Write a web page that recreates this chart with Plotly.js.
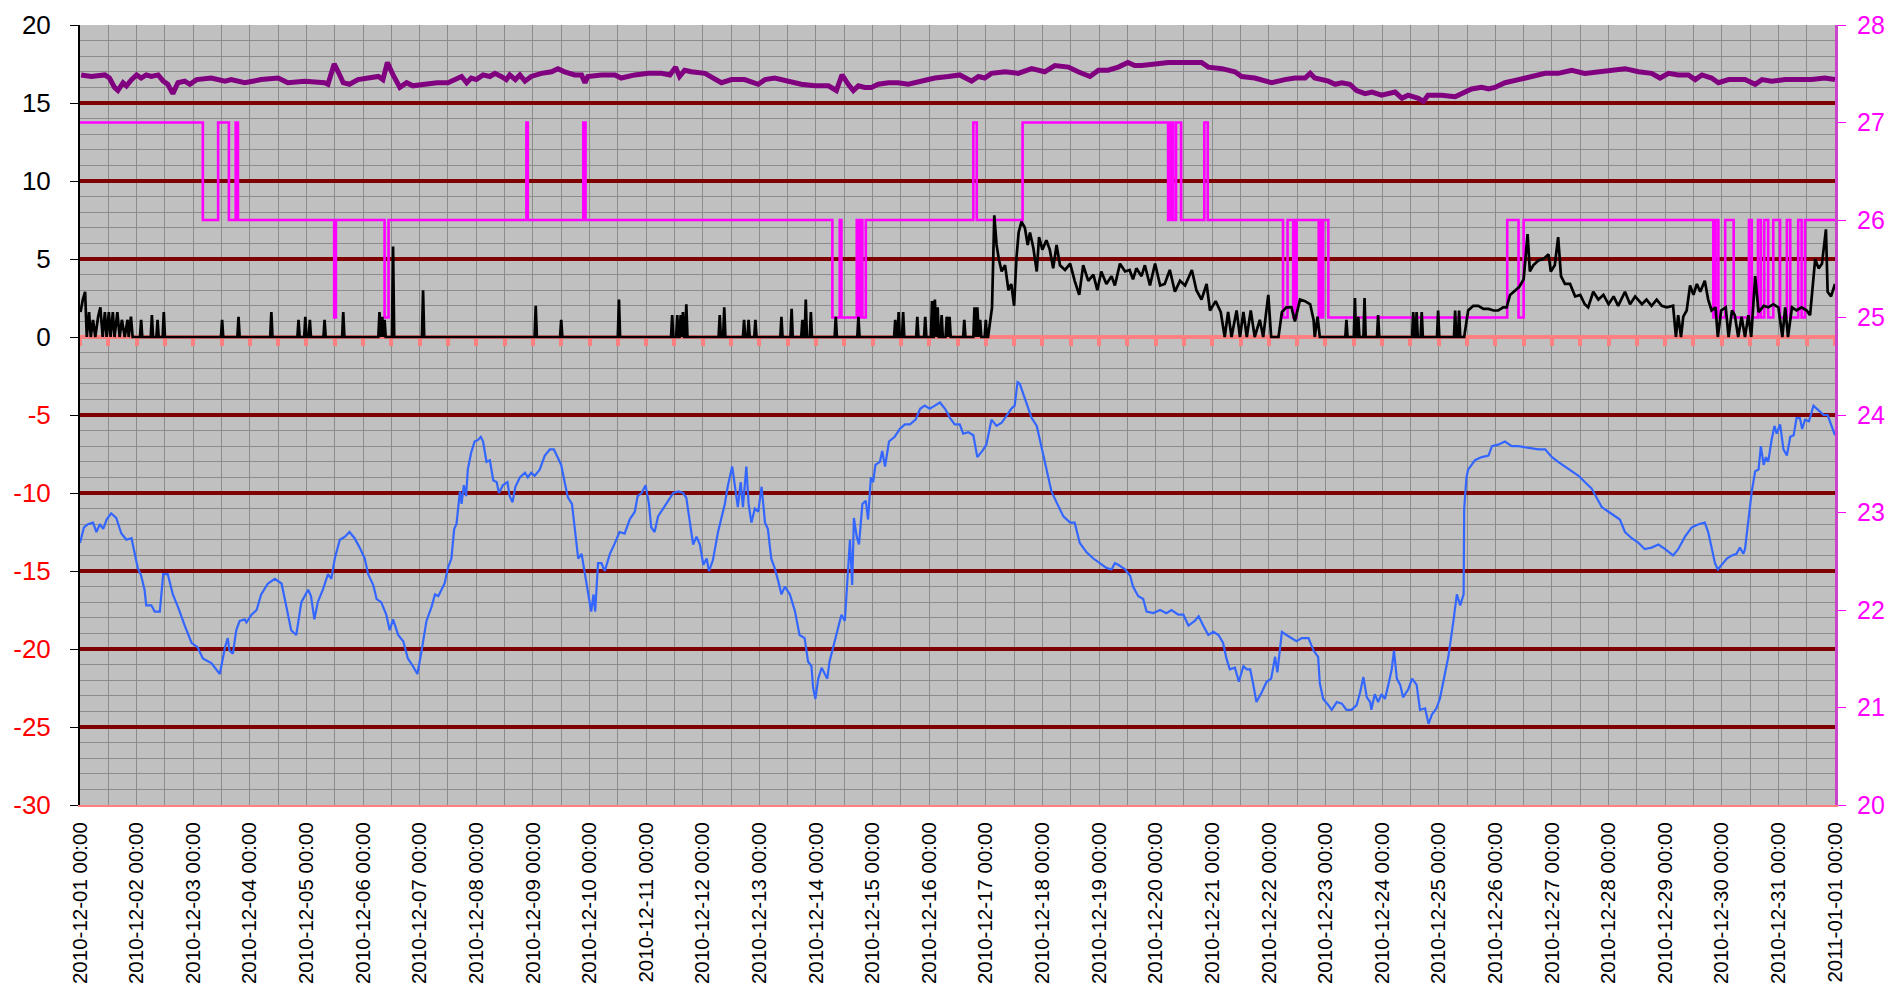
<!DOCTYPE html>
<html>
<head>
<meta charset="utf-8">
<script src="https://cdn.plot.ly/plotly-3.0.1.min.js"></script>
<style>html,body{margin:0;padding:0;background:#fff;}#chart{width:1890px;height:989px;}</style>
</head>
<body>
<div id="chart"></div>
<script>
// Time in days since 2010-12-01 00:00
const startDate = '2010-12-01 00:00';
const endDate = '2011-01-01 00:00';

// Left axis tick values / labels
const leftTickVals = [20, 15, 10, 5, 0, -5, -10, -15, -20, -25, -30];
const rightTickVals = [20, 21, 22, 23, 24, 25, 26, 27, 28];

// Blue series (left axis)
const blueT = [0,0.07,0.14,0.23,0.29,0.35,0.41,0.47,0.55,0.64,0.73,0.82,0.91,0.97,1.02,1.08,1.14,1.17,1.26,1.32,1.41,1.47,1.55,1.64,1.73,1.85,1.97,2.08,2.17,2.32,2.41,2.47,2.56,2.61,2.64,2.70,2.76,2.82,2.91,2.94,3.03,3.12,3.20,3.32,3.44,3.56,3.64,3.73,3.82,3.91,4.03,4.08,4.14,4.20,4.29,4.38,4.44,4.50,4.59,4.68,4.76,4.85,4.94,5.03,5.09,5.18,5.24,5.32,5.41,5.47,5.53,5.62,5.71,5.79,5.88,5.96,6.03,6.12,
6.21,6.27,6.33,6.38,6.44,6.50,6.56,6.61,6.65,6.71,6.74,6.78,6.82,6.85,6.91,6.97,7.03,7.08,7.12,7.18,7.24,7.30,7.36,7.40,7.47,7.55,7.59,7.64,7.69,7.77,7.86,7.91,7.97,8.03,8.12,8.21,8.30,8.37,8.44,8.50,8.56,8.62,8.69,8.74,8.80,8.86,8.92,8.97,9.03,9.07,9.10,9.15,9.21,9.27,9.36,9.45,9.53,9.62,9.71,9.80,9.85,9.92,9.99,10.05,10.09,10.15,10.21,10.30,10.39,10.48,10.57,10.65,10.71,10.77,10.83,10.89,10.95,11.01,11.07,11.11,11.18,11.27,11.33,11.39,11.44,11.52,11.57,11.62,11.67,11.71,11.77,11.81,11.86,11.92,11.98,12.04,12.10,12.15,12.21,12.27,
12.33,12.39,12.45,12.54,12.63,12.71,12.80,12.86,12.92,12.95,12.99,13.04,13.10,13.16,13.20,13.24,13.30,13.36,13.45,13.51,13.55,13.60,13.64,13.67,13.72,13.76,13.82,13.88,13.92,13.97,14.01,14.05,14.13,14.17,14.22,14.29,14.39,14.48,14.57,14.66,14.76,14.84,14.92,15.01,15.10,15.19,15.28,15.37,15.45,15.54,15.60,15.69,15.78,15.85,15.94,16.01,16.10,16.19,16.28,16.37,16.45,16.51,16.56,16.60,16.69,16.81,16.90,16.98,17.07,17.16,17.25,17.37,17.49,17.57,17.66,17.78,17.90,18.02,18.13,18.22,18.28,18.34,18.46,
18.55,18.60,18.69,18.78,18.84,18.96,19.08,19.19,19.28,19.40,19.49,19.58,19.69,19.76,19.84,19.93,20.02,20.11,20.19,20.25,20.31,20.40,20.47,20.55,20.61,20.67,20.72,20.78,20.87,20.96,21.04,21.11,21.15,21.23,21.31,21.40,21.49,21.58,21.70,21.79,21.87,21.90,21.96,22.05,22.11,22.20,22.29,22.37,22.46,22.55,22.61,22.67,22.73,22.79,22.81,22.87,22.93,22.99,23.05,23.11,23.17,23.21,23.26,23.32,23.37,23.46,23.53,23.61,23.67,23.76,23.82,23.88,23.96,24.02,24.08,24.17,24.26,24.32,24.38,24.44,24.45,24.49,24.52,24.64,24.76,
24.88,24.94,25.05,25.17,25.29,25.41,25.58,25.76,25.88,26.00,26.11,26.23,26.35,26.47,26.58,26.70,26.79,26.88,27.00,27.11,27.20,27.29,27.41,27.53,27.64,27.76,27.88,28.00,28.14,28.23,28.35,28.47,28.59,28.70,28.76,28.82,28.88,28.93,29.00,29.09,29.18,29.26,29.32,29.38,29.41,29.47,29.53,29.59,29.65,29.69,29.74,29.78,29.82,29.88,29.93,29.97,30.03,30.09,30.15,30.21,30.27,30.32,30.38,30.42,30.47,30.54,30.62,30.71,30.80,30.87,30.94,31.00];
const blueV = [-13.2,-12.2,-12.0,-11.9,-12.5,-12.0,-12.3,-11.7,-11.3,-11.6,-12.6,-13.0,-12.9,-13.9,-14.8,-15.3,-16.2,-17.2,-17.2,-17.6,-17.6,-15.2,-15.2,-16.5,-17.3,-18.5,-19.6,-19.9,-20.6,-20.9,-21.3,-21.6,-19.9,-19.3,-20.1,-20.3,-18.8,-18.2,-18.1,-18.3,-17.8,-17.5,-16.5,-15.8,-15.5,-15.8,-17.2,-18.8,-19.1,-17.0,-16.2,-16.6,-18.1,-17.0,-16.2,-15.2,-15.5,-14.2,-13.0,-12.8,-12.5,-12.9,-13.5,-14.2,-15.2,-15.9,-16.8,-17.0,-17.8,-18.8,-18.1,-19.1,-19.5,-20.6,-21.1,-21.6,-20.2,-18.2,
-17.3,-16.5,-16.6,-16.2,-15.8,-14.8,-14.2,-12.3,-12.0,-9.9,-10.7,-9.5,-10.2,-8.5,-7.4,-6.7,-6.6,-6.4,-6.7,-8.0,-7.9,-9.2,-9.3,-10.0,-9.5,-9.3,-10.2,-10.6,-9.6,-9.0,-8.7,-9.0,-8.7,-8.9,-8.5,-7.6,-7.2,-7.2,-7.7,-8.2,-9.3,-10.3,-10.7,-12.5,-14.2,-13.9,-15.3,-16.5,-17.6,-16.5,-17.6,-14.5,-14.5,-15.0,-13.9,-13.2,-12.5,-12.6,-11.7,-11.2,-10.2,-10.0,-9.5,-10.7,-12.2,-12.5,-11.5,-11.0,-10.5,-10.0,-9.9,-10.0,-10.3,-11.9,-13.3,-12.8,-13.3,-14.6,-14.2,-15.0,-14.3,-12.5,-11.6,-10.7,-9.6,-8.3,-9.6,-10.9,-9.3,-10.9,-8.3,-10.7,-11.9,-11.0,-11.2,-9.6,-11.9,-12.3,-14.2,-14.8,
-15.6,-16.5,-16.0,-16.5,-17.6,-19.1,-19.3,-20.8,-21.1,-22.5,-23.2,-21.9,-21.2,-21.6,-21.9,-20.8,-19.9,-19.1,-17.8,-18.2,-15.6,-13.0,-15.9,-11.6,-12.8,-13.3,-10.7,-10.5,-11.7,-9.0,-9.3,-8.2,-8.0,-7.3,-8.3,-6.7,-6.4,-5.9,-5.6,-5.6,-5.3,-4.6,-4.4,-4.6,-4.4,-4.2,-4.6,-5.2,-5.6,-5.6,-6.2,-6.1,-6.3,-7.7,-7.3,-6.9,-5.3,-5.7,-5.5,-5.0,-4.6,-4.4,-2.9,-3.0,-4.0,-5.2,-5.7,-7.0,-8.3,-9.9,-10.6,-11.5,-11.9,-11.9,-13.2,-13.8,-14.2,-14.5,-14.8,-14.9,-14.5,-14.6,-14.9,
-15.3,-16.0,-16.6,-16.8,-17.6,-17.7,-17.5,-17.7,-17.5,-17.8,-17.8,-18.5,-18.2,-17.9,-18.5,-19.1,-18.9,-19.1,-19.6,-20.6,-21.3,-21.2,-22.1,-21.1,-21.3,-21.3,-22.2,-23.4,-22.8,-22.1,-21.9,-20.5,-21.5,-18.9,-19.1,-19.3,-19.5,-19.3,-19.3,-20.1,-20.5,-22.2,-23.2,-23.6,-23.9,-23.4,-23.5,-23.9,-23.9,-23.6,-22.8,-21.8,-23.1,-23.4,-23.9,-22.9,-23.4,-22.9,-23.2,-22.3,-21.3,-20.1,-21.9,-22.3,-23.1,-22.6,-21.9,-22.3,-23.9,-23.8,-24.8,-24.2,-23.8,-23.2,-22.2,-20.5,-18.2,-16.5,-17.2,-16.5,-11.0,-9.0,-8.5,-7.9,-7.7,
-7.6,-7.0,-6.9,-6.7,-7.0,-7.0,-7.1,-7.2,-7.2,-7.7,-8.0,-8.3,-8.6,-8.9,-9.3,-9.7,-10.3,-10.9,-11.2,-11.5,-11.7,-12.5,-12.9,-13.2,-13.6,-13.5,-13.3,-13.6,-14.0,-13.6,-12.8,-12.2,-12.0,-11.9,-12.5,-13.5,-14.5,-14.9,-14.6,-14.2,-14.0,-13.9,-13.5,-13.9,-13.6,-11.7,-9.9,-8.6,-8.5,-7.0,-8.2,-7.7,-8.0,-6.6,-5.7,-6.2,-5.6,-7.2,-7.6,-6.4,-6.3,-5.2,-5.2,-5.9,-5.3,-5.4,-4.4,-4.7,-5.0,-5.0,-5.7,-6.3];

// Purple series (left axis)
const purpleT = [0.02,0.2,0.44,0.52,0.61,0.67,0.76,0.82,0.91,1.0,1.08,1.17,1.26,1.38,1.47,1.55,1.64,1.73,1.85,1.94,2.06,2.32,2.56,2.67,2.91,3.2,3.5,3.67,3.97,4.32,4.38,4.49,4.56,4.65,4.76,4.91,5.09,5.27,5.35,5.43,5.53,5.65,5.77,5.88,6.09,6.31,6.5,6.62,6.74,6.83,6.91,7.0,7.12,7.24,7.33,7.44,7.53,7.59,7.69,7.77,7.86,7.97,8.15,8.33,8.44,8.56,8.74,8.86,8.92,8.97,9.21,9.45,9.56,9.8,10.04,10.27,10.42,10.52,10.59,10.68,10.8,11.04,11.21,11.33,11.51,11.74,11.98,12.1,12.27,12.5,12.74,12.98,13.22,13.36,13.46,13.57,13.66,13.75,13.86,13.98,14.1,14.28,14.45,14.63,14.75,14.92,15.1,15.34,15.54,15.75,15.87,15.98,16.1,16.34,16.57,16.81,17.04,17.22,17.46,17.63,17.84,17.99,18.16,18.34,18.51,18.63,18.75,18.99,19.22,19.46,19.69,19.81,19.93,20.17,20.4,20.52,20.75,21.05,21.28,21.46,21.64,21.73,21.81,22.05,22.17,22.29,22.43,22.55,22.7,22.82,22.99,23.23,23.35,23.46,23.64,23.73,23.81,24.05,24.29,24.41,24.58,24.76,24.88,24.99,25.17,25.41,25.64,25.88,26.11,26.35,26.58,26.82,27.06,27.29,27.53,27.76,27.91,28.06,28.23,28.41,28.53,28.65,28.82,28.94,29.12,29.41,29.59,29.71,29.88,30.12,30.35,30.59,30.82,31.0];
const purpleV = [16.8,16.7,16.8,16.6,16.0,15.8,16.3,16.1,16.5,16.8,16.6,16.8,16.7,16.8,16.4,16.2,15.6,16.3,16.4,16.2,16.5,16.6,16.4,16.5,16.3,16.5,16.6,16.3,16.4,16.3,16.2,17.5,17.0,16.3,16.2,16.5,16.6,16.7,16.5,17.6,16.8,16.0,16.3,16.1,16.2,16.3,16.3,16.5,16.7,16.3,16.6,16.5,16.8,16.7,16.9,16.7,16.5,16.8,16.5,16.8,16.4,16.7,16.9,17.0,17.2,17.0,16.8,16.8,16.3,16.7,16.8,16.8,16.6,16.8,16.9,16.9,16.8,17.3,16.7,17.1,17.0,16.9,16.5,16.3,16.5,16.5,16.2,16.5,16.6,16.4,16.2,16.1,16.1,15.8,16.8,16.2,15.8,16.1,16.0,16.0,16.2,16.3,16.3,16.2,16.3,16.4,16.6,16.7,16.8,16.4,16.7,16.6,16.9,17.0,16.9,17.2,17.0,17.4,17.3,17.0,16.7,17.1,17.1,17.3,17.6,17.4,17.4,17.5,17.6,17.6,17.6,17.6,17.3,17.2,17.0,16.7,16.6,16.3,16.5,16.6,16.6,16.9,16.6,16.4,16.2,16.3,16.2,15.8,15.6,15.7,15.5,15.7,15.3,15.5,15.3,15.1,15.5,15.5,15.4,15.6,15.9,16.0,15.9,16.0,16.3,16.5,16.7,16.9,16.9,17.1,16.9,17.0,17.1,17.2,17.0,16.9,16.6,16.9,16.8,16.8,16.5,16.8,16.6,16.3,16.5,16.5,16.2,16.5,16.4,16.5,16.5,16.5,16.6,16.5];

// Black series (left axis)
const blackT = [0.01,0.05,0.09,0.12,0.16,0.19,0.23,0.27,0.32,0.36,0.40,0.44,0.47,0.51,0.54,0.58,0.61,0.66,0.70,0.74,0.79,0.84,0.86,0.90,0.93,
1.06,1.08,1.10, 1.25,1.27,1.29, 1.35,1.37,1.39, 1.46,1.48,1.50, 2.49,2.51,2.53, 2.78,2.80,2.82, 3.36,3.38,3.40, 3.84,3.86,3.88, 3.96,3.98,4.00, 4.04,4.06,4.08, 4.30,4.32,4.34, 4.63,4.65,4.67,
5.27,5.29,5.31, 5.32,5.34,5.36, 5.36,5.38,5.40, 5.51,5.53,5.55, 6.04,6.06,6.08, 8.03,8.05,8.07, 8.48,8.50,8.52, 9.50,9.52,9.54,
10.44,10.46,10.48, 10.53,10.55,10.57, 10.59,10.61,10.63, 10.63,10.65,10.67, 10.69,10.71,10.73, 11.28,11.30,11.32, 11.36,11.38,11.40, 11.71,11.73,11.75, 11.79,11.81,11.83, 11.91,11.93,11.95,
12.37,12.39,12.41, 12.55,12.57,12.59, 12.74,12.76,12.78, 12.80,12.82,12.84, 12.89,12.91,12.93, 13.33,13.35,13.37, 13.73,13.75,13.77, 14.38,14.40,14.42, 14.44,14.46,14.48, 14.52,14.54,14.56, 14.77,14.79,14.81, 14.91,14.93,14.95,
15.03,15.05,15.07, 15.08,15.10,15.12, 15.13,15.15,15.17, 15.20,15.22,15.24, 15.29,15.31,15.33, 15.34,15.36,15.38, 15.60,15.62,15.64, 15.78,15.80,15.82, 15.83,15.85,15.87, 15.88,15.90,15.92, 15.98,16.00,16.02,
16.04,16.11,16.15,16.19,16.23,16.28,16.34,16.40,16.45,16.50,16.54,16.58,16.63,16.69,16.74,16.78,16.84,16.90,16.94,17.00,17.07,17.13,17.19,17.25,17.31,17.40,17.49,17.57,17.65,17.72,17.81,17.90,17.97,18.04,18.13,18.22,18.28,18.37,18.46,18.54,18.60,18.66,18.75,18.81,18.90,18.99,19.08,19.16,19.25,19.34,19.43,19.52,19.64,19.72,19.81,19.90,19.96,20.06,20.15,20.22,20.28,20.34,20.43,20.49,20.55,20.61,20.68,20.75,20.84,20.90,20.99,21.04,21.17,21.23,21.31,21.40,21.46,21.55,21.64,21.73,21.79,21.81,21.86,21.90,
22.35,22.37,22.39, 22.50,22.52,22.54, 22.56,22.58,22.60, 22.67,22.69,22.71, 22.91,22.93,22.95, 23.53,23.55,23.57, 23.59,23.61,23.63, 23.68,23.70,23.72, 23.97,23.99,24.01, 24.27,24.29,24.31, 24.34,24.36,24.38,
24.45,24.52,24.61,24.70,24.79,24.88,24.97,25.05,25.14,25.20,25.26,25.35,25.42,25.50,25.57,25.61,25.67,25.76,25.85,25.94,25.98,26.05,26.11,26.16,26.23,26.32,26.41,26.50,26.58,26.64,26.73,26.82,26.91,27.00,27.09,27.17,27.29,27.38,27.47,27.59,27.67,27.76,27.85,27.94,28.03,28.14,28.19,28.23,28.28,28.32,28.38,28.44,28.50,28.56,28.62,28.70,28.76,28.82,28.89,28.93,28.99,29.07,29.12,29.18,29.23,29.29,29.35,29.41,29.47,29.52,29.59,29.65,29.74,29.82,29.91,30.00,30.07,30.12,30.17,30.24,30.32,30.41,30.50,30.56,30.65,30.71,30.77,30.84,30.87,30.93,31.00];
const blackV = [1.6,2.4,2.9,0,1.6,0,1.1,0,1.3,1.9,0,1.6,0,1.6,0,1.6,0,1.6,0,1.1,0,1.1,0,1.3,0,
0,1.1,0, 0,1.4,0, 0,1.1,0, 0,1.6,0, 0,1.1,0, 0,1.3,0, 0,1.6,0, 0,1.1,0, 0,1.3,0, 0,1.1,0, 0,1.1,0, 0,1.6,0,
0,1.6,0, 0,1.3,0, 0,1.1,0, 0,5.8,0, 0,3.0,0, 0,2.0,0, 0,1.1,0, 0,2.4,0,
0,1.4,0, 0,1.4,0, 0,1.4,0, 0,1.6,0, 0,2.1,0, 0,1.4,0, 0,1.9,0, 0,1.1,0, 0,1.1,0, 0,1.1,0,
0,1.3,0, 0,1.8,0, 0,1.1,0, 0,2.4,0, 0,1.6,0, 0,1.3,0, 0,1.3,0, 0,1.1,0, 0,1.6,0, 0,1.6,0, 0,1.3,0, 0,1.3,0,
0,2.3,0, 0,2.4,0, 0,1.9,0, 0,1.4,0, 0,1.3,0, 0,1.3,0, 0,1.1,0, 0,1.9,0, 0,1.9,0, 0,1.1,0, 0,1.1,0,
0,1.9,7.8,5.9,5.0,4.2,4.6,3.0,3.4,2.0,5.0,6.7,7.4,7.0,5.9,6.7,5.7,4.2,6.4,5.6,6.2,5.6,4.4,5.9,4.6,4.3,4.7,3.6,2.7,4.6,3.6,4.0,3.0,4.2,3.4,3.9,3.3,4.7,4.2,4.3,3.7,4.4,3.9,4.6,3.3,4.7,3.3,3.4,4.3,2.9,3.6,3.3,4.3,3.0,2.4,3.4,1.7,2.3,1.6,0,1.6,0,1.7,0,1.6,0,1.7,0,1.1,0,2.7,0,0,1.6,1.9,1.9,1.0,2.4,2.3,2.1,1.1,0,1.3,0,
0,1.1,0, 0,2.5,0, 0,1.3,0, 0,2.5,0, 0,1.4,0, 0,1.6,0, 0,1.6,0, 0,1.6,0, 0,1.7,0, 0,1.7,0, 0,1.7,0,
0,1.7,2.0,2.0,1.8,1.8,1.7,1.7,1.9,1.9,2.7,3.0,3.2,3.7,6.6,4.2,4.6,4.9,5.0,5.3,4.2,4.6,6.4,3.9,3.4,3.4,2.6,2.7,2.1,1.9,2.9,2.4,2.7,2.1,2.6,2.0,2.9,2.1,2.6,2.1,2.4,2.0,2.4,2.0,1.9,2.0,0,1.4,0,1.3,1.7,3.3,2.7,3.4,2.9,3.6,2.4,1.7,1.9,0,1.7,1.9,0,1.7,1.4,0,1.3,0,1.4,0,3.9,1.6,2.0,1.9,2.1,1.9,0,1.9,0,1.9,1.7,1.9,1.7,1.4,5.0,4.4,4.7,6.9,2.9,2.6,3.4];

// Magenta step series (right axis)
const magT = [0,2.17,2.44,2.63,2.75,2.79,4.49,4.52,5.38,5.45,7.885,7.91,8.89,8.93,13.29,13.42,13.45,13.72,13.76,13.80,13.82,13.88,15.78,15.84,16.65,19.22,19.25,19.27,19.30,19.31,19.36,19.45,19.86,19.92,21.25,21.33,21.43,21.45,21.47,21.49,21.88,21.91,21.93,21.96,22.05,25.21,25.41,25.50,28.85,28.89,28.94,29.06,29.21,29.48,29.53,29.64,29.69,29.75,29.82,29.91,30.03,30.15,30.21,30.35,30.41,30.47,31.0];
const magV = [27,26,27,26,27,26,25,26,25,26,27,26,27,26,25,26,25,26,25,26,25,26,27,26,27,26,27,26,27,26,27,26,27,26,25,26,25,26,25,26,25,26,25,26,25,26,25,26,25,26,25,26,25,26,25,26,25,26,25,26,25,26,25,26,25,26,26];

function toDate(d) {
  const ms = Date.UTC(2010, 11, 1) + Math.round(d * 86400000);
  return new Date(ms).toISOString().replace('T', ' ').slice(0, 19);
}

const leftTickText = leftTickVals.map(v => v < 0 ? '<span style="color:#ff0000">' + v + '</span>' : String(v));

const traces = [
  {x: blueT.map(toDate), y: blueV, type: 'scatter', mode: 'lines', line: {color: '#3366ff', width: 2.2}, xaxis: 'x', yaxis: 'y', hoverinfo: 'skip'},
  {x: purpleT.map(toDate), y: purpleV, type: 'scatter', mode: 'lines', line: {color: '#800080', width: 5}, xaxis: 'x', yaxis: 'y', hoverinfo: 'skip'},
  {x: blackT.map(toDate), y: blackV, type: 'scatter', mode: 'lines', line: {color: '#000000', width: 2.7}, xaxis: 'x2', yaxis: 'y', hoverinfo: 'skip'},
  {x: magT.map(toDate), y: magV, type: 'scatter', mode: 'lines', line: {color: '#ff00ff', width: 2.6, shape: 'hv'}, xaxis: 'x', yaxis: 'y2', hoverinfo: 'skip'}
];

const fontFam = 'Liberation Sans, Arial, sans-serif';

const layout = {
  width: 1890, height: 989,
  margin: {l: 80, r: 55, t: 25, b: 184, pad: 0},
  paper_bgcolor: '#ffffff',
  plot_bgcolor: '#c0c0c0',
  showlegend: false,
  font: {family: fontFam, color: '#000000'},
  xaxis: {
    type: 'date', range: [startDate, endDate],
    tickmode: 'linear', tick0: startDate, dtick: 86400000,
    tickformat: '%Y-%m-%d %H:%M', tickangle: -90,
    tickfont: {size: 20.5, family: fontFam, color: '#000'},
    showgrid: true, gridcolor: '#8c8c8c', gridwidth: 1,
    minor: {tickmode: 'linear', tick0: startDate, dtick: 43200000, showgrid: true, gridcolor: '#8c8c8c', gridwidth: 1},
    showline: true, linecolor: '#ff8080', linewidth: 2, mirror: false,
    ticks: '', zeroline: false, ticklabelstandoff: 7
  },
  xaxis2: {
    type: 'date', range: [startDate, endDate], overlaying: 'x', anchor: 'free', position: 0.6,
    tickmode: 'linear', tick0: startDate, dtick: 43200000,
    ticks: 'outside', ticklen: 7, tickwidth: 4, tickcolor: '#ff8080',
    showticklabels: false, showgrid: false, zeroline: false,
    showline: true, linecolor: '#ff8080', linewidth: 4, layer: 'below traces'
  },
  yaxis: {
    range: [-30, 20], tickmode: 'array', tickvals: leftTickVals, ticktext: leftTickText,
    tickfont: {size: 26, family: fontFam, color: '#000'},
    showgrid: true, gridcolor: '#800000', gridwidth: 4,
    minor: {tickmode: 'linear', tick0: 0, dtick: 1, showgrid: true, gridcolor: '#8c8c8c', gridwidth: 1},
    showline: true, linecolor: '#000000', linewidth: 2,
    ticks: 'outside', ticklen: 8, tickwidth: 1, tickcolor: '#000',
    zeroline: false, ticklabelstandoff: 14
  },
  yaxis2: {
    range: [20, 28], overlaying: 'y', side: 'right', anchor: 'x',
    tickmode: 'array', tickvals: rightTickVals,
    tickfont: {size: 25, family: fontFam, color: '#ff00ff'},
    showgrid: false, zeroline: false,
    showline: true, linecolor: '#cc44cc', linewidth: 3,
    ticks: 'outside', ticklen: 8, tickwidth: 1, tickcolor: '#ff00ff',
    ticklabelstandoff: 6
  }
};

Plotly.newPlot('chart', traces, layout, {staticPlot: true, displayModeBar: false});
</script>
</body>
</html>
